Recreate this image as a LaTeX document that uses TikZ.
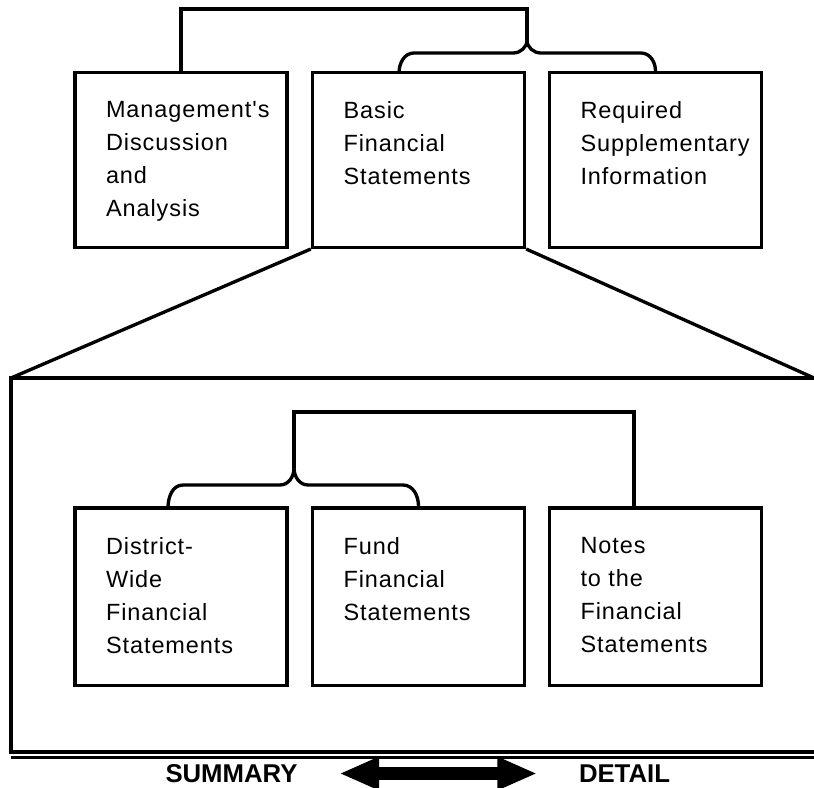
\documentclass[tikz,border=0pt]{standalone}
\usepackage{fontspec}
\setmainfont{Liberation Sans}
\newfontfamily\boxfont[LetterSpace=4]{Liberation Sans}
\usetikzlibrary{positioning}
\usetikzlibrary{calc}
\usetikzlibrary{arrows.meta}

\begin{document}
\begin{tikzpicture}[
		x=0.75pt, y=-0.75pt,
		line width=2.5pt,
		box/.style = {
			shape=rectangle,
			draw,
			minimum width=159pt,
			minimum height=131pt
		},
		boxtext/.style = {
			anchor=north west,
			inner sep=0pt,
			align=left,
			font=\boxfont\fontsize{17.6pt}{24.75pt}\selectfont
		},
		caption/.style = {
			inner sep=0pt,
			font=\bfseries\fontsize{19.3pt}{22pt}\selectfont
		},
		bigarrow/.style = {
			draw,
			line width=9.5pt,
			{Triangle[length=30pt,width=23pt]}-{Triangle[length=30pt,width=23pt]},
			shorten <=30pt,
			shorten >=30pt
		}
		]
		\useasboundingbox (0,0) rectangle (814,788);

		\node[box] (mda) at (181,160) {};
		\node[box] (bfs) at (418.5,160) {};
		\node[box] (rsi) at (655.5,160) {};
		\node[boxtext] (mdatext) at ($(mda.north west)+(31,29)$) {Management's\\Discussion\\and\\Analysis};
		\node[boxtext] (bfstext) at ($(bfs.north west)+(31,29)$) {Basic\\Financial\\Statements};
		\node[boxtext] (rsitext) at ($(rsi.north west)+(31,29)$) {Required\\Supplementary\\Information};

		\coordinate (toptip) at (527,40);
		\coordinate (toparm) at (399,73);
		\draw (mda.north) |- (toptip |- 0,9) -- (toptip);
		\draw (toptip) to[out=270,in=0] (513,53) -- (414,53) to[out=180,in=90] (toparm);
		\draw (toptip) to[out=270,in=180] (541,53) -- (641,53) to[out=0,in=90] (rsi.north);

		\draw (bfs.south west) -- (11,378);
		\draw (bfs.south east) -- (814,378);
		\draw (830,378) -- (11,378) -- (11,752) -- (830,752);
		\draw (11,757.5) -- (830,757.5);

		\node[box, minimum height=133pt] (dw) at (181,596.5) {};
		\node[box, minimum height=133pt] (ffs) at (418.5,596.5) {};
		\node[box, minimum height=133pt] (nfs) at (655.5,596.5) {};
		\node[boxtext] (dwtext) at ($(dw.north west)+(31,30)$) {District-\\Wide\\Financial\\Statements};
		\node[boxtext] (ffstext) at ($(ffs.north west)+(31,30)$) {Fund\\Financial\\Statements};
		\node[boxtext] (nfstext) at ($(nfs.north west)+(31,30)$) {Notes\\to the\\Financial\\Statements};

		\coordinate (lowtip) at (294,468);
		\coordinate (lowarm) at (168,508);
		\coordinate (notesin) at (634,508);
		\draw (lowtip) -- (294,412) -| (notesin);
		\draw (lowtip) to[out=270,in=0] (280,485) -- (183,485) to[out=180,in=90] (lowarm);
		\draw (lowtip) to[out=270,in=180] (308,485) -- (403,485) to[out=0,in=90] (ffs.north);

		\node[caption] (summary) at (231.5,773.5) {SUMMARY};
		\node[caption] (detail) at (624.5,773.5) {DETAIL};
		\draw[bigarrow] (summary) -- (detail);
	\end{tikzpicture}
\end{document}
